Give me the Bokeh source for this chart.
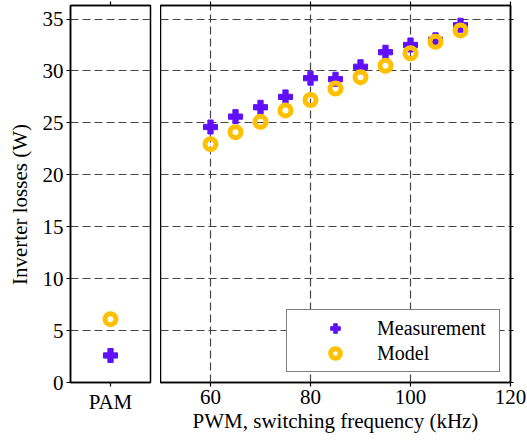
from bokeh.plotting import figure
from bokeh.layouts import row
from bokeh.models import (FactorRange, Range1d, FixedTicker, Legend, LegendItem,
                          LinearAxis, CategoricalAxis)
from bokeh.embed import file_html
from bokeh.resources import INLINE

# ---- data ----
pam_cat = ["PAM"]
pam_measurement = [2.6]
pam_model = [6.1]

freq_khz = [60, 65, 70, 75, 80, 85, 90, 95, 100, 105, 110]
measurement = [24.6, 25.6, 26.5, 27.5, 29.3, 29.2, 30.4, 31.8, 32.5, 33.0, 34.4]
model = [22.95, 24.1, 25.1, 26.2, 27.2, 28.3, 29.4, 30.5, 31.7, 32.8, 33.9]

y_ticks = [0, 5, 10, 15, 20, 25, 30, 35]
x_ticks = [60, 80, 100, 120]

# ---- style ----
FONT = "'Liberation Serif', 'Times New Roman', serif"
FS = "21px"
PURPLE = "#6010F8"
ORANGE = "#FFC000"
GRID = "#454545"

def style_axis(ax, tick_out=4, labels=True):
    ax.axis_line_color = "black"
    ax.axis_line_width = 1.5
    ax.major_tick_line_color = "black"
    ax.major_tick_line_width = 1.2
    ax.major_tick_in = 0
    ax.major_tick_out = tick_out
    ax.minor_tick_line_color = None
    ax.major_label_text_font = FONT
    ax.axis_label_text_font = FONT
    ax.axis_label_text_font_style = "normal"
    ax.axis_label_text_color = "black"
    ax.axis_label_text_font_size = FS
    if labels:
        ax.major_label_text_color = "black"
        ax.major_label_text_font_size = FS
        ax.major_label_standoff = 3
    else:
        # tick marks only: no tick labels drawn
        ax.major_label_text_color = None
        ax.major_label_text_font_size = "0px"
        ax.major_label_standoff = 0

def style_grid(g):
    g.grid_line_color = GRID
    g.grid_line_dash = "8 4"
    g.grid_line_width = 1.2

Y_MAX = 36.3

# ---- left panel (PAM) ----
p1 = figure(x_range=FactorRange(*pam_cat), y_range=Range1d(0, Y_MAX),
            frame_width=80, frame_height=377,
            min_border_left=70, min_border_right=10,
            min_border_top=5, min_border_bottom=60,
            output_backend="svg", toolbar_location=None)
p1.outline_line_color = "black"
p1.outline_line_width = 1.5
p1.yaxis.ticker = FixedTicker(ticks=y_ticks)
p1.yaxis.axis_label = "Inverter losses (W)" + "\u00a0" * 4
p1.yaxis.axis_label_standoff = 8
for ax in p1.yaxis:
    style_axis(ax)
for ax in p1.xaxis:
    style_axis(ax)
top1 = CategoricalAxis()
style_axis(top1, labels=False)
p1.add_layout(top1, "above")
p1.xgrid.visible = False
p1.ygrid.ticker = FixedTicker(ticks=y_ticks)
style_grid(p1.ygrid)

p1.scatter(pam_cat, pam_measurement, marker="plus", size=14,
           fill_color=PURPLE, line_color=PURPLE)
p1.scatter(pam_cat, pam_model, marker="circle", size=11,
           line_color=ORANGE, line_width=5, fill_color=None)

# ---- right panel (PWM) ----
p2 = figure(x_range=Range1d(50, 120), y_range=Range1d(0, Y_MAX),
            frame_width=350, frame_height=377,
            min_border_left=0, min_border_right=17,
            min_border_top=5, min_border_bottom=60,
            y_axis_location=None,
            output_backend="svg", toolbar_location=None)
p2.outline_line_color = "black"
p2.outline_line_width = 1.5
p2.xaxis.ticker = FixedTicker(ticks=x_ticks)
p2.xaxis.axis_label = "PWM, switching frequency (kHz)"
p2.xaxis.axis_label_standoff = 2
for ax in p2.xaxis:
    style_axis(ax)
top2 = LinearAxis(ticker=FixedTicker(ticks=x_ticks))
style_axis(top2, labels=False)
p2.add_layout(top2, "above")
right2 = LinearAxis(ticker=FixedTicker(ticks=y_ticks))
style_axis(right2, tick_out=3, labels=False)
p2.add_layout(right2, "right")
p2.xgrid.ticker = FixedTicker(ticks=x_ticks)
p2.ygrid.ticker = FixedTicker(ticks=y_ticks)
style_grid(p2.xgrid)
style_grid(p2.ygrid)

r_meas = p2.scatter(freq_khz, measurement, marker="plus", size=14,
                    fill_color=PURPLE, line_color=PURPLE)
r_model = p2.scatter(freq_khz, model, marker="circle", size=11,
                     line_color=ORANGE, line_width=5, fill_color=None)

legend = Legend(items=[LegendItem(label="Measurement", renderers=[r_meas]),
                       LegendItem(label="Model", renderers=[r_model])],
                location="bottom_right")
legend.margin = 10
legend.padding = 6
legend.spacing = 1
legend.glyph_width = 84
legend.glyph_height = 24
legend.label_height = 24
legend.label_width = 116
legend.label_standoff = 0
legend.label_text_font = FONT
legend.label_text_font_size = "20px"
legend.label_text_color = "black"
legend.border_line_color = "black"
legend.border_line_width = 1.5
legend.background_fill_color = "white"
legend.background_fill_alpha = 1.0
p2.add_layout(legend)

layout = row(p1, p2, spacing=0)

open("out.html", "w").write(file_html(layout, INLINE))
